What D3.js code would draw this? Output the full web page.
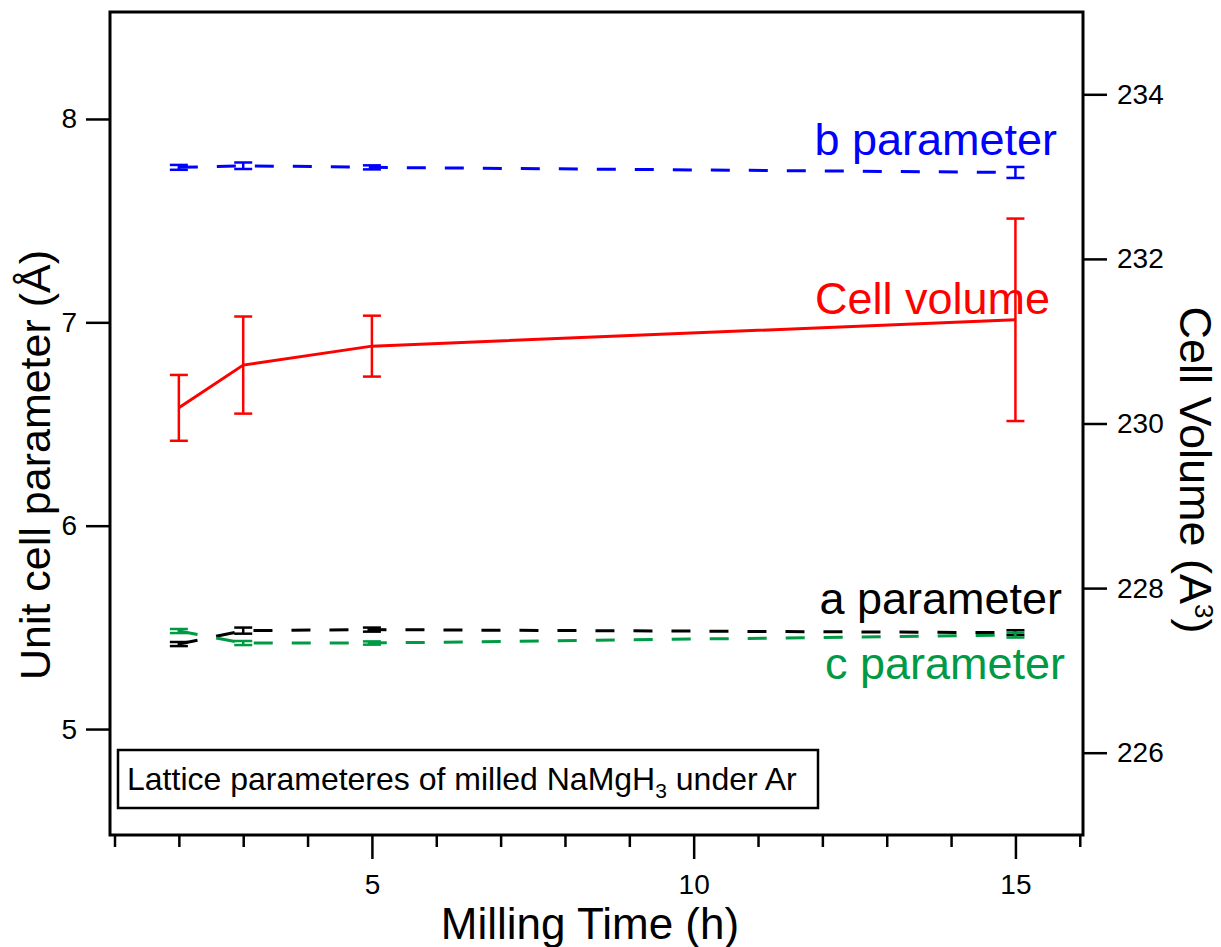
<!DOCTYPE html>
<html>
<head>
<meta charset="utf-8">
<script src="https://cdn.jsdelivr.net/npm/d3@7"></script>
<style>
  html, body { margin: 0; padding: 0; background: #fff; }
  svg { display: block; font-family: "Liberation Sans", Arial, sans-serif; }
</style>
</head>
<body>
<svg id="chart" width="1221" height="947"></svg>
<script>
// ---- data ----
const time = [2, 3, 5, 15];
const cellVolume = [230.19, 230.71, 230.94, 231.26];
const cellVolumeErr = [0.40, 0.59, 0.37, 1.23];
const bParam = [7.762, 7.770, 7.762, 7.737];
const bErr = [0.012, 0.016, 0.010, 0.027];
const aParam = [5.418, 5.484, 5.489, 5.474];
const aErr = [0.010, 0.015, 0.010, 0.012];
const cParam = [5.482, 5.423, 5.423, 5.462];
const cErr = [0.010, 0.010, 0.008, 0.012];
const xMajorTicks = [5, 10, 15];
const xMinorTicks = [1, 2, 3, 4, 6, 7, 8, 9, 11, 12, 13, 14, 16];
const yLeftTicks = [5, 6, 7, 8];
const yRightTicks = [226, 228, 230, 232, 234];
const seriesLabels = ["b parameter", "Cell volume", "a parameter", "c parameter"];
const legendText = "Lattice parameteres of milled NaMgH";

// ---- layout ----
const L = 110, R = 1083, T = 12, B = 835;
const svg = d3.select("#chart");
const x = d3.scaleLinear().domain([0.93, 16.05]).range([L, R]);
const yL = d3.scaleLinear().domain([4.479, 8.526]).range([B, T]);
const yR = d3.scaleLinear().domain([225, 235]).range([B, T]);

const green = "#009944";

// axes
const tickFont = "28px";
const xMajor = svg.append("g").attr("transform", `translate(0,${B})`)
  .call(d3.axisBottom(x).tickValues(xMajorTicks).tickSize(24).tickPadding(15).tickFormat(d3.format("d")));
const xMinor = svg.append("g").attr("transform", `translate(0,${B})`)
  .call(d3.axisBottom(x).tickValues(xMinorTicks).tickSize(12).tickFormat(""));
const yLeft = svg.append("g").attr("transform", `translate(${L},0)`)
  .call(d3.axisLeft(yL).tickValues(yLeftTicks).tickSize(24).tickPadding(9).tickFormat(d3.format("d")));
const yRight = svg.append("g").attr("transform", `translate(${R},0)`)
  .call(d3.axisRight(yR).tickValues(yRightTicks).tickSize(24).tickPadding(10).tickFormat(d3.format("d")));
[xMajor, xMinor, yLeft, yRight].forEach(g => {
  g.select(".domain").remove();
  g.selectAll(".tick line").attr("stroke", "#000").attr("stroke-width", 2.5);
  g.selectAll(".tick text").attr("fill", "#000").style("font-size", tickFont)
    .style("font-family", '"Liberation Sans", Arial, sans-serif');
});

// frame
svg.append("rect").attr("x", L).attr("y", T).attr("width", R - L).attr("height", B - T)
  .attr("fill", "none").attr("stroke", "#000").attr("stroke-width", 3);

// series drawing
const plot = svg.append("g");
function drawSeries(vals, errs, yScale, color, dashed) {
  const pts = time.map((t, i) => [t, vals[i], errs[i]]);
  const line = d3.line().x(d => x(d[0])).y(d => yScale(d[1]));
  plot.append("path").datum(pts).attr("d", line)
    .attr("fill", "none").attr("stroke", color).attr("stroke-width", 3)
    .attr("stroke-dasharray", dashed ? "19,19" : null);
  const capW = 9;
  const g = plot.append("g").attr("stroke", color).attr("stroke-width", 2.5).attr("fill", "none");
  pts.forEach(d => {
    const cx = x(d[0]), y1 = yScale(d[1] + d[2]), y2 = yScale(d[1] - d[2]);
    g.append("line").attr("x1", cx).attr("x2", cx).attr("y1", y1).attr("y2", y2);
    g.append("line").attr("x1", cx - capW).attr("x2", cx + capW).attr("y1", y1).attr("y2", y1);
    g.append("line").attr("x1", cx - capW).attr("x2", cx + capW).attr("y1", y2).attr("y2", y2);
  });
}
drawSeries(bParam, bErr, yL, "#0000ff", true);
drawSeries(aParam, aErr, yL, "#000000", true);
drawSeries(cParam, cErr, yL, green, true);
drawSeries(cellVolume, cellVolumeErr, yR, "#ff0000", false);

// series labels
const lab = [
  { t: seriesLabels[0], x: 1057, y: 155, c: "#0000ff" },
  { t: seriesLabels[1], x: 1050, y: 314, c: "#ff0000" },
  { t: seriesLabels[2], x: 1062, y: 614, c: "#000000" },
  { t: seriesLabels[3], x: 1065, y: 679, c: green }
];
lab.forEach(d => {
  svg.append("text").attr("x", d.x).attr("y", d.y).attr("text-anchor", "end")
    .attr("fill", d.c).style("font-size", "45px").text(d.t);
});

// legend box
svg.append("rect").attr("x", 118).attr("y", 750).attr("width", 700).attr("height", 58)
  .attr("fill", "#fff").attr("stroke", "#000").attr("stroke-width", 2.5);
const lt = svg.append("text").attr("x", 127).attr("y", 790).style("font-size", "32px").attr("fill", "#000");
lt.append("tspan").text(legendText);
lt.append("tspan").attr("dy", 8).style("font-size", "21px").text("3");
lt.append("tspan").attr("dy", -8).text(" under Ar");

// axis titles
svg.append("text").attr("x", 590).attr("y", 939).attr("text-anchor", "middle")
  .style("font-size", "44px").attr("fill", "#000").text("Milling Time (h)");
svg.append("text").attr("transform", "translate(50,465) rotate(-90)").attr("text-anchor", "middle")
  .style("font-size", "43px").attr("fill", "#000").text("Unit cell parameter (Å)");
const rt = svg.append("text").attr("transform", "translate(1180,470) rotate(90)").attr("text-anchor", "middle")
  .style("font-size", "45px").attr("fill", "#000");
rt.append("tspan").text("Cell Volume (A");
rt.append("tspan").attr("dy", -15).style("font-size", "26px").text("3");
rt.append("tspan").attr("dy", 15).text(")");
</script>
</body>
</html>
